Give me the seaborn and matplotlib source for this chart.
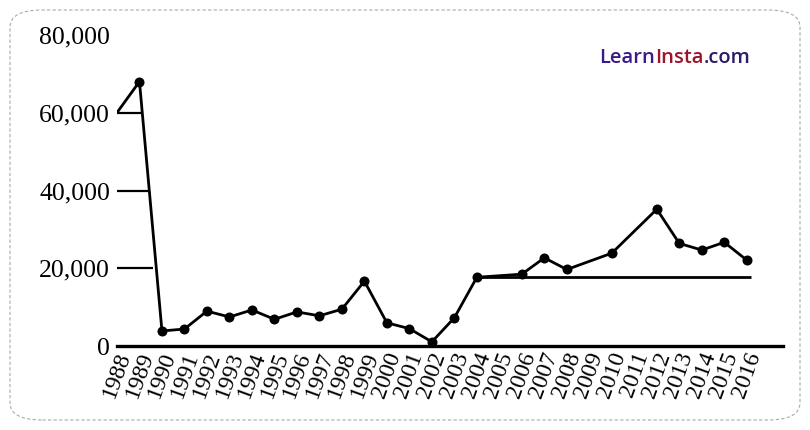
import numpy as np
import pandas as pd
import matplotlib
matplotlib.use('Agg')
import matplotlib.pyplot as plt
import seaborn as sns
from matplotlib.patches import FancyBboxPatch
from matplotlib.offsetbox import TextArea, HPacker, AnchoredOffsetbox

# 数据
years = [1988, 1989, 1990, 1991, 1992, 1993, 1994, 1995, 1996, 1997, 1998, 1999,
         2000, 2001, 2002, 2003, 2004, 2006, 2007, 2008, 2010, 2012, 2013, 2014,
         2015, 2016]
values = [60000, 68000, 3900, 4400, 9000, 7500, 9300, 6900, 8800, 7800, 9500, 16700,
          6000, 4500, 1100, 7300, 17700, 18500, 22700, 19700, 23900, 35200, 26400,
          24700, 26700, 22100]
tick_years = list(range(1988, 2017))
y_ticks = [0, 20000, 40000, 60000, 80000]
y_tick_labels = ['0', '20,000', '40,000', '60,000', '80,000']
ref_level = 17700
ref_span = (2004, 2016.2)

df = pd.DataFrame({'year': years, 'value': values})

sns.set_style('white')
plt.rcParams['font.family'] = ['Liberation Serif', 'DejaVu Serif']

fig = plt.figure(figsize=(8.1, 4.3), dpi=100)
ax = fig.add_axes([0.1444, 0.195, 0.822, 0.742])

# 折线（1988 起点无标记）
sns.lineplot(data=df, x='year', y='value', ax=ax, color='black', linewidth=2.0)
sns.scatterplot(data=df.iloc[1:], x='year', y='value', ax=ax, color='black',
                s=52, edgecolor='black', linewidth=0, zorder=3)
ax.hlines(ref_level, ref_span[0], ref_span[1], color='black', linewidth=2.0)

ax.set_xlim(1988, 2017.6)
ax.set_ylim(0, 82000)
ax.set_xticks(tick_years)
ax.set_xticklabels([str(y) for y in tick_years], rotation=70, ha='center', fontsize=17)
ax.set_yticks(y_ticks)
ax.set_yticklabels(y_tick_labels, fontsize=18.5)
ax.set_xlabel('')
ax.set_ylabel('')

for s in ['top', 'right', 'left']:
    ax.spines[s].set_visible(False)
ax.spines['bottom'].set_linewidth(2.4)
ax.spines['bottom'].set_color('black')

ax.tick_params(axis='x', bottom=False, length=0, pad=2, colors='black')
ax.tick_params(axis='y', left=True, direction='in', length=22, width=1.6, pad=5,
               colors='black')
# 各刻度线长度不同，止于折线
for tick, ln in zip(ax.yaxis.get_major_ticks(), [0, 26, 22, 19, 0]):
    tick.tick1line.set_markersize(ln)

# 水印
parts = [('Learn', '#3a1a8a'), ('Insta', '#9e1328'), ('.com', '#2e1b66')]
boxes = [TextArea(t, textprops=dict(color=c, fontsize=14.5, fontweight='semibold',
                                    family='Open Sans')) for t, c in parts]
pack = HPacker(children=boxes, pad=0, sep=0, align='baseline')
anch = AnchoredOffsetbox(loc='center', child=pack, frameon=False,
                         bbox_to_anchor=(675 / 810, 1 - 58 / 430),
                         bbox_transform=fig.transFigure)
fig.add_artist(anch)

# 虚线圆角边框
border = FancyBboxPatch((10 / 810, 10 / 430), 790 / 810, 410 / 430,
                        boxstyle='round,pad=0,rounding_size=0.04',
                        transform=fig.transFigure, fill=False,
                        edgecolor='#aaaaaa', linewidth=0.8, linestyle=(0, (3, 2)))
fig.add_artist(border)

fig.savefig('out.png', dpi=100)
